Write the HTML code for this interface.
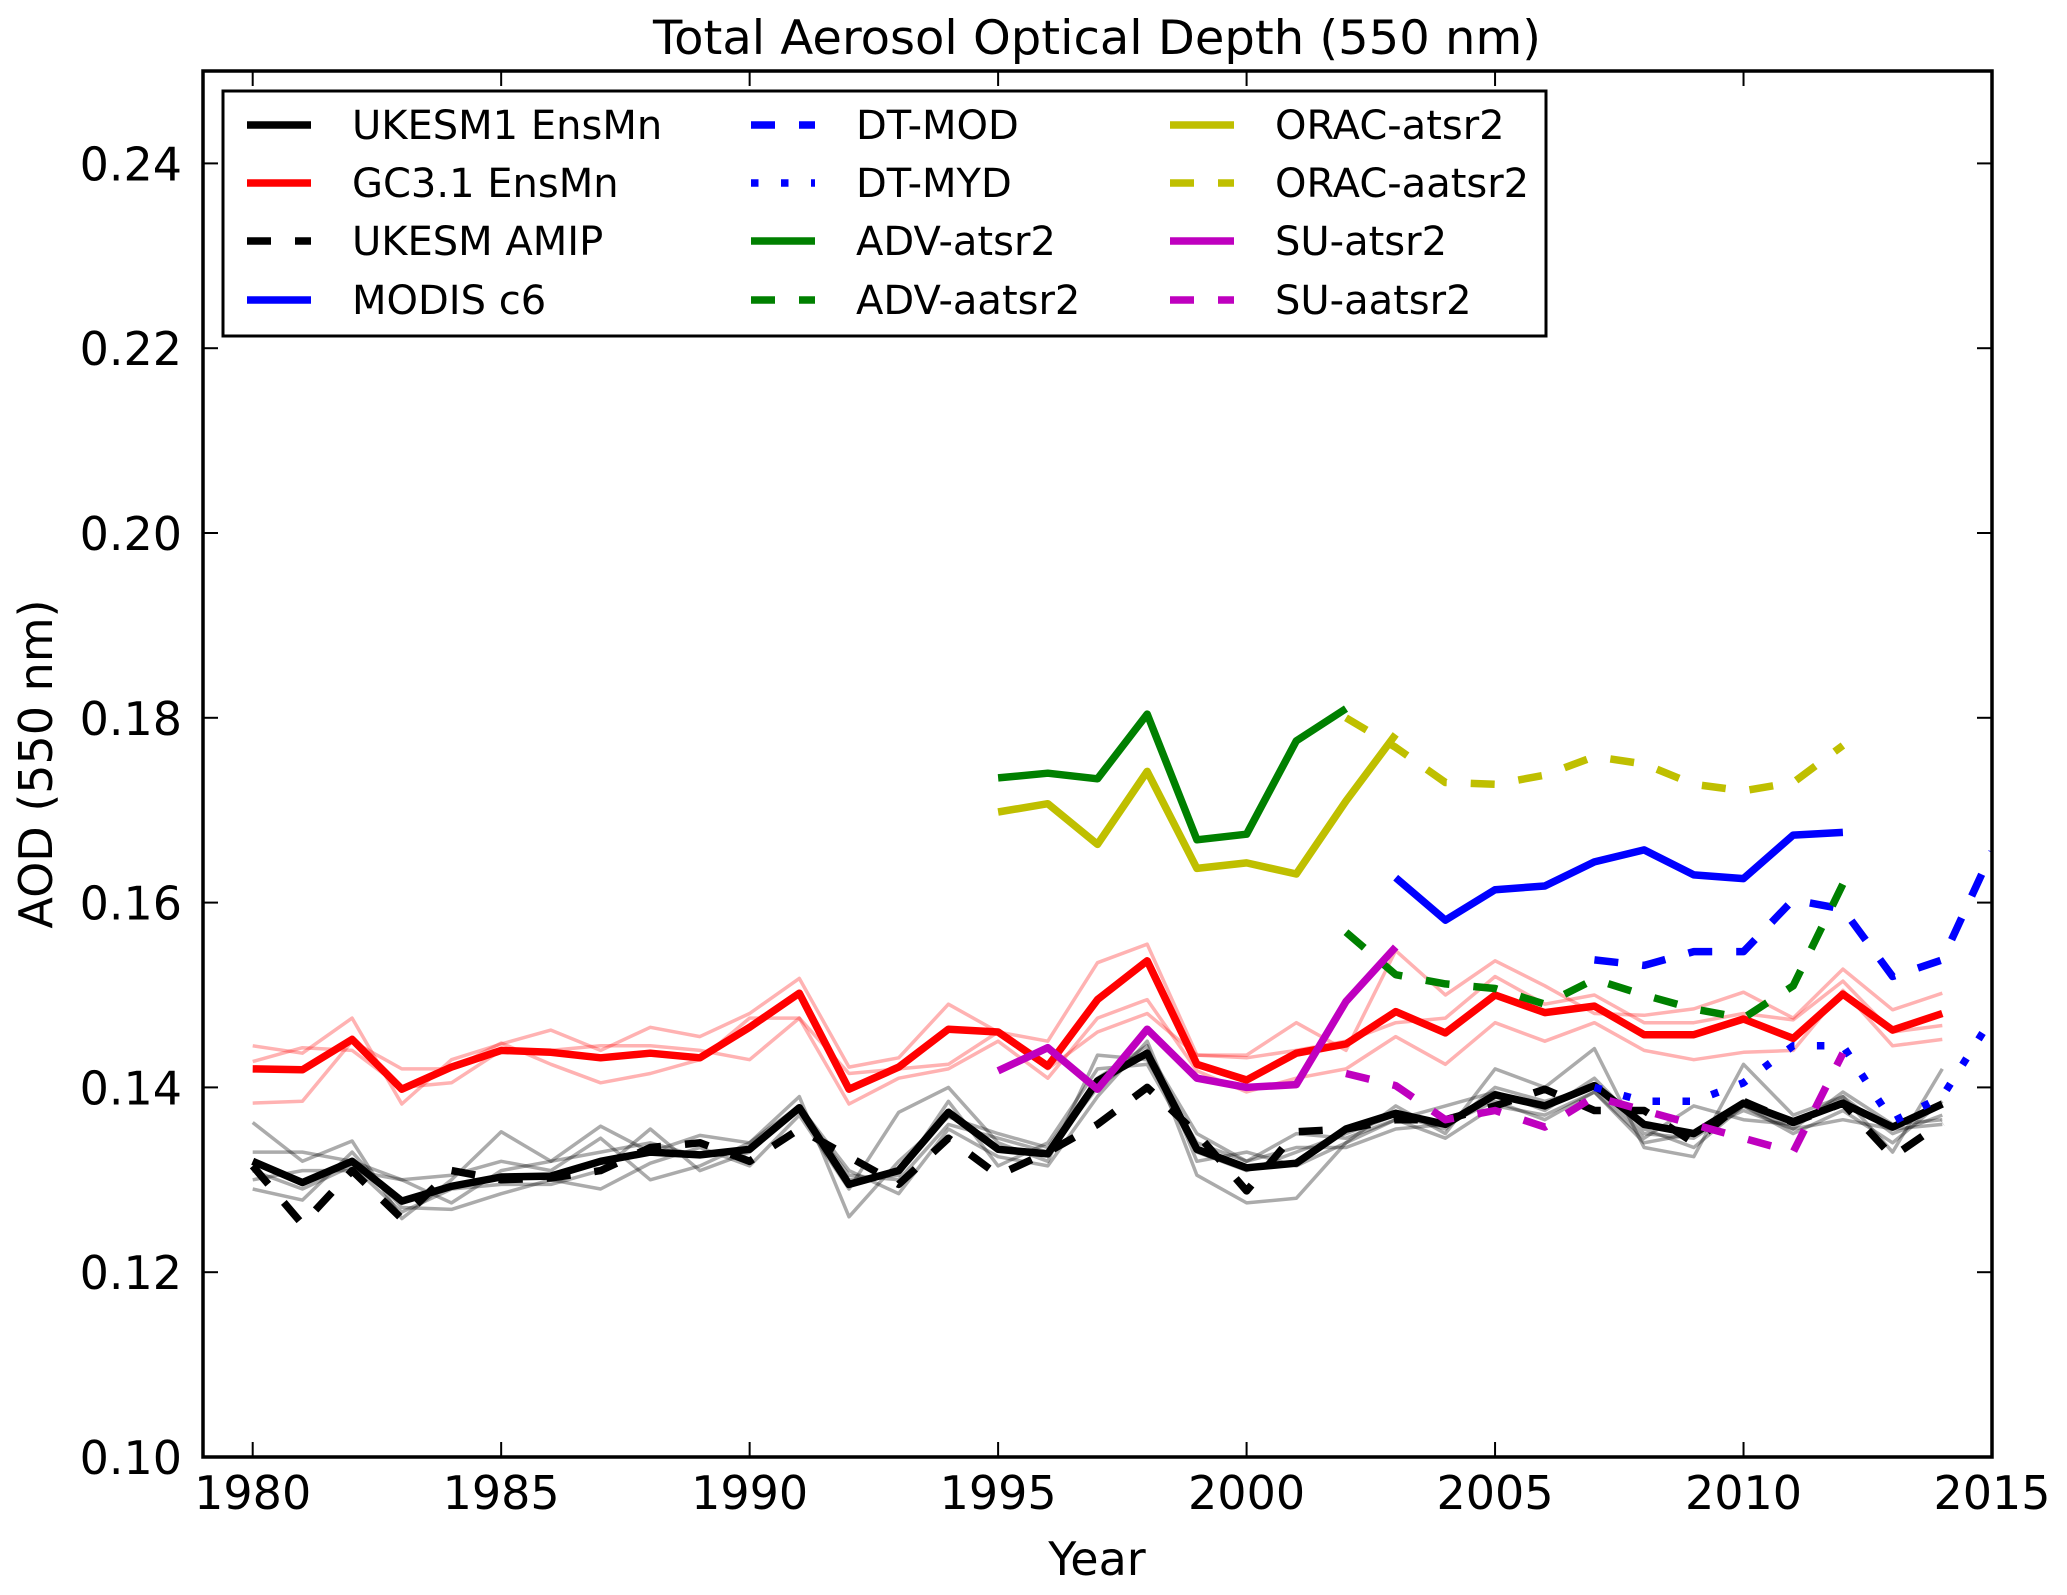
<!DOCTYPE html>
<html><head><meta charset="utf-8"><style>
html,body{margin:0;padding:0;background:#fff;}
svg{display:block;font-family:"DejaVu Sans","Liberation Sans",sans-serif;}
</style></head><body>
<svg id="chart" width="2067" height="1595" viewBox="0 0 2067 1595" xmlns="http://www.w3.org/2000/svg">
<text x="1097" y="54" font-size="47" text-anchor="middle" textLength="888" lengthAdjust="spacingAndGlyphs">Total Aerosol Optical Depth (550 nm)</text>
<text x="1097" y="1575" font-size="46" text-anchor="middle">Year</text>
<text transform="translate(52,764) rotate(-90)" font-size="46" text-anchor="middle">AOD (550 nm)</text>
<defs><clipPath id="pc"><rect x="203" y="71" width="1789" height="1386"/></clipPath></defs>
<g id="ticks"></g>
<g id="series" clip-path="url(#pc)"></g>
<rect x="203" y="71" width="1789" height="1386" fill="none" stroke="#000" stroke-width="3.5"/>
<g id="legend"></g>
</svg>
<script>
const years = [1980,1981,1982,1983,1984,1985,1986,1987,1988,1989,1990,1991,1992,1993,1994,1995,1996,1997,1998,1999,2000,2001,2002,2003,2004,2005,2006,2007,2008,2009,2010,2011,2012,2013,2014];
const ukesmMean = [.132,.1297,.132,.1277,.1293,.1303,.1304,.132,.133,.1327,.1333,.1378,.1295,.131,.1373,.1333,.1328,.1407,.1437,.1333,.1313,.1318,.1355,.1372,.136,.1392,.138,.1402,.136,.135,.1383,.1363,.1383,.1357,.1382];
const gcMean = [.142,.1419,.1452,.1398,.1422,.144,.1438,.1432,.1437,.1432,.1465,.1502,.1398,.1422,.1463,.146,.1423,.1495,.1537,.1425,.1408,.1437,.1447,.1482,.1459,.15,.1481,.1488,.1457,.1457,.1474,.1453,.1501,.1462,.148];
const ukesmAmip = [.1315,.1252,.131,.1258,.131,.130,.1302,.131,.1335,.134,.132,.1355,.1325,.1295,.1345,.1305,.133,.136,.140,.135,.1288,.1352,.1355,.1365,.1365,.138,.1398,.1375,.1375,.134,.1385,.1362,.1383,.1325,.1362];
const gcMember1 = [.1445,.1437,.1475,.1382,.1430,.1447,.1462,.1440,.1465,.1455,.1480,.1518,.1422,.1432,.1490,.1460,.1450,.1535,.1555,.1435,.1435,.1470,.1440,.1548,.1500,.1537,.1510,.1480,.1478,.1485,.1503,.1475,.1528,.1484,.1502];
const gcMember2 = [.1383,.1385,.1450,.1420,.1420,.1448,.1425,.1405,.1415,.1430,.1475,.1475,.1382,.1410,.1420,.1450,.1410,.1475,.1495,.1418,.1395,.1410,.1420,.1455,.1425,.1470,.1450,.1470,.1440,.1430,.1438,.1440,.1505,.1445,.1452];
const gcMember3 = [.1428,.1443,.1440,.1400,.1405,.1440,.1440,.1445,.1445,.1440,.1430,.1475,.1415,.1420,.1425,.1460,.1420,.1460,.1480,.1435,.1432,.1440,.1450,.1470,.1475,.1520,.1490,.1500,.1470,.1470,.1480,.1473,.1515,.1460,.1467];
const ukMember1 = [.1362,.1320,.1342,.1258,.1300,.1352,.1320,.1358,.1330,.1348,.1340,.1390,.1260,.1320,.1368,.1350,.1335,.1410,.1445,.1305,.1275,.1280,.1340,.1380,.1350,.1420,.1400,.1442,.1335,.1325,.1425,.1370,.1390,.1330,.1420];
const ukMember2 = [.1290,.1278,.1330,.1270,.1268,.1285,.1300,.1290,.1318,.1335,.1315,.1370,.1290,.1373,.1400,.1340,.1320,.1435,.1430,.1340,.1320,.1350,.1345,.1365,.1380,.1395,.1375,.1410,.1355,.1335,.1380,.1355,.1395,.1360,.1365];
const ukMember3 = [.1330,.1330,.1320,.1300,.1305,.1320,.1310,.1345,.1300,.1315,.1340,.1380,.1310,.1285,.1355,.1325,.1315,.1390,.1450,.1320,.1330,.1315,.1340,.1365,.1345,.1380,.1370,.1395,.1345,.1380,.1365,.1360,.1390,.1350,.1370];
const ukMember4 = [.1310,.1290,.1315,.1265,.1290,.1295,.1295,.1310,.1355,.1310,.1330,.1380,.1300,.1305,.1385,.1315,.1340,.1420,.1425,.1330,.1310,.1330,.1350,.1370,.1355,.1400,.1385,.1400,.1350,.1345,.1380,.1350,.1375,.1340,.1385];
const ukMember5 = [.1300,.1310,.1310,.1300,.1275,.1310,.1320,.1330,.1340,.1325,.1335,.1375,.1305,.1300,.1360,.1345,.1330,.1400,.1440,.1350,.1320,.1335,.1335,.1355,.1360,.1385,.1365,.1395,.1340,.1350,.1375,.1355,.1365,.1355,.1360];
const modisYears = [2003,2004,2005,2006,2007,2008,2009,2010,2011,2012];
const modisC6 = [.1627,.1581,.1614,.1618,.1644,.1657,.163,.1626,.1673,.1676];
const dtYears = [2007,2008,2009,2010,2011,2012,2013,2014,2015];
const dtMod = [.1538,.1532,.1547,.1547,.1603,.1593,.152,.1538,.1655];
const dtMyd = [.140,.1385,.1385,.1405,.1445,.1445,.1363,.139,.1475];
const atsrYears = [1995,1996,1997,1998,1999,2000,2001,2002,2003];
const advAtsr2 = [.1735,.1740,.1734,.1804,.1668,.1674,.1775,.1810];
const oracAtsr2 = [.1698,.1707,.1663,.1742,.1637,.1643,.1631,.1710,.1782];
const suAtsr2 = [.1418,.1443,.1398,.1463,.1410,.1400,.1403,.1493,.1552];
const aatsrYears = [2002,2003,2004,2005,2006,2007,2008,2009,2010,2011,2012];
const advAatsr2 = [.1568,.1522,.1512,.1507,.1490,.1517,.1500,.1485,.1475,.1510,.1620];
const oracAatsr2 = [.1800,.1768,.1730,.1728,.1738,.1758,.1750,.1728,.1721,.1730,.1770];
const suAatsr2 = [.1415,.1402,.1365,.1375,.1357,.1390,.1375,.1360,.1345,.1330,.1437];
const xTicks = [1980,1985,1990,1995,2000,2005,2010,2015];
const yTicks = [0.10,0.12,0.14,0.16,0.18,0.20,0.22,0.24];
const yTickLabels = ["0.10","0.12","0.14","0.16","0.18","0.20","0.22","0.24"];

const NS="http://www.w3.org/2000/svg";
const L=203,R=1992,T=71,B=1457,X0=1979,X1=2015,Y0=0.10,Y1=0.25;
const sx=v=>L+(v-X0)/(X1-X0)*(R-L);
const sy=v=>B-(v-Y0)/(Y1-Y0)*(B-T);
function mk(tag,attrs,parent){const e=document.createElementNS(NS,tag);for(const k in attrs)e.setAttribute(k,attrs[k]);parent.appendChild(e);return e;}
const tg=document.getElementById('ticks');
xTicks.forEach(t=>{const x=sx(t);
 let l=mk('line',{x1:x,x2:x,y1:B,y2:B-15,stroke:'#000','stroke-width':2},tg);
 
 
 let l2=mk('line',{x1:x,x2:x,y1:T,y2:T+15,stroke:'#000','stroke-width':2},tg);
 
 
 const tx=mk('text',{x:x,y:1509,'font-size':46,'text-anchor':'middle'},tg);tx.textContent=t;
 
 
});
yTicks.forEach((t,i)=>{const y=sy(t);
 let l=mk('line',{x1:L,x2:L+15,y1:y,y2:y,stroke:'#000','stroke-width':2},tg);
 
 
 let l2=mk('line',{x1:R,x2:R-15,y1:y,y2:y,stroke:'#000','stroke-width':2},tg);
 
 
 const tx=mk('text',{x:182,y:y+17,'font-size':46,'text-anchor':'end'},tg);tx.textContent=yTickLabels[i];
 
 
});
const sg=document.getElementById('series');
function line(xs,ys,color,w,dash,op,name){
 const pts=ys.map((v,i)=>sx(xs[i]).toFixed(1)+','+sy(v).toFixed(1)).join(' ');
 const p=mk('polyline',{points:pts,fill:'none',stroke:color,'stroke-width':w,'stroke-linejoin':'round','stroke-opacity':op},sg);
 if(dash)p.setAttribute('stroke-dasharray',dash);
 
 
}
[ukMember1,ukMember2,ukMember3,ukMember4,ukMember5].forEach(a=>line(years,a,'#000',3.5,null,0.33,'ukesm-member-line'));
[gcMember1,gcMember2,gcMember3].forEach(a=>line(years,a,'#f00',3.5,null,0.3,'gc31-member-line'));
const W=7.5,DASH='24,24',DOT='7.5,22.5';
line(years,ukesmMean,'#000',W,null,1,'ukesm1-ensmn-line');
line(years,gcMean,'#f00',W,null,1,'gc31-ensmn-line');
line(years,ukesmAmip,'#000',W,DASH,1,'ukesm-amip-line');
line(modisYears,modisC6,'#00f',W,null,1,'modis-c6-line');
line(dtYears,dtMod,'#00f',W,DASH,1,'dt-mod-line');
line(dtYears,dtMyd,'#00f',W,DOT,1,'dt-myd-line');
line(atsrYears,advAtsr2,'#008000',W,null,1,'adv-atsr2-line');
line(aatsrYears,advAatsr2,'#008000',W,DASH,1,'adv-aatsr2-line');
line(atsrYears,oracAtsr2,'#bfbf00',W,null,1,'orac-atsr2-line');
line(aatsrYears,oracAatsr2,'#bfbf00',W,DASH,1,'orac-aatsr2-line');
line(atsrYears,suAtsr2,'#bf00bf',W,null,1,'su-atsr2-line');
line(aatsrYears,suAatsr2,'#bf00bf',W,DASH,1,'su-aatsr2-line');

const lg=document.getElementById('legend');
mk('rect',{x:223,y:91,width:1323,height:245,fill:'#fff',stroke:'#000','stroke-width':3},lg);
const entries=[
 ['UKESM1 EnsMn','#000',null],['GC3.1 EnsMn','#f00',null],['UKESM AMIP','#000',DASH],['MODIS c6','#00f',null],
 ['DT-MOD','#00f',DASH],['DT-MYD','#00f',DOT],['ADV-atsr2','#008000',null],['ADV-aatsr2','#008000',DASH],
 ['ORAC-atsr2','#bfbf00',null],['ORAC-aatsr2','#bfbf00',DASH],['SU-atsr2','#bf00bf',null],['SU-aatsr2','#bf00bf',DASH]];
const colX=[247,751,1170],rowY=[125,183,241,300];
entries.forEach((e,i)=>{const c=Math.floor(i/4),r=i%4,x=colX[c],y=rowY[r];
 const g=mk('g',{},lg);
 
 
 const l=mk('line',{x1:x,x2:x+64,y1:y,y2:y,stroke:e[1],'stroke-width':W},g);
 if(e[2])l.setAttribute('stroke-dasharray',e[2]);
 const t=mk('text',{x:x+105,y:y+14,'font-size':40},g);t.textContent=e[0];
});
</script>
</body></html>
